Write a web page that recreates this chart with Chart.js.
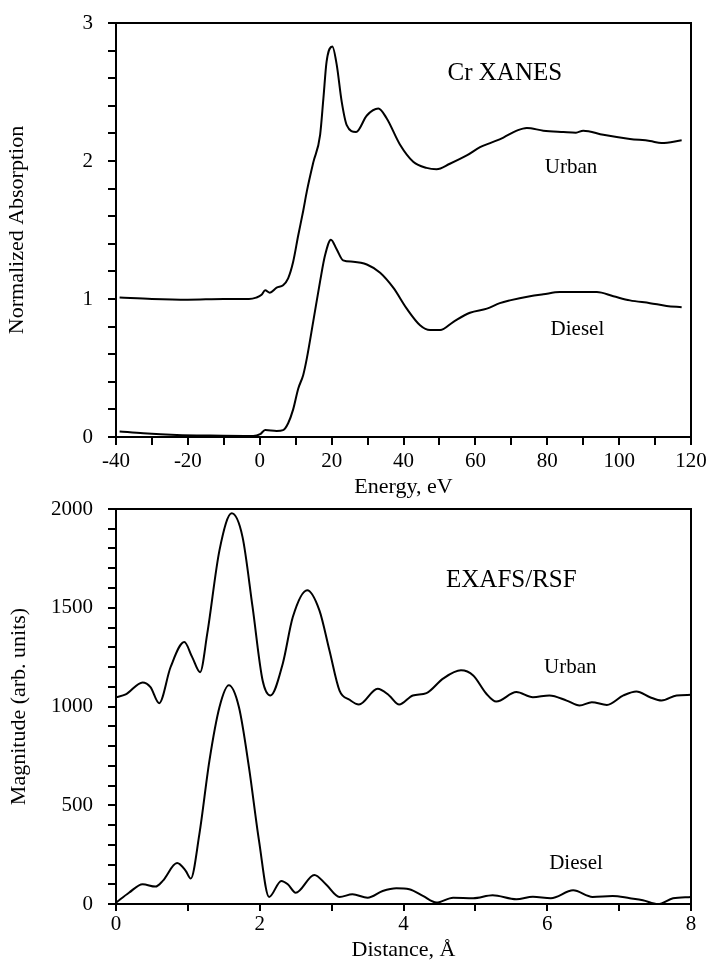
<!DOCTYPE html>
<html>
<head>
<meta charset="utf-8">
<script src="https://cdn.jsdelivr.net/npm/chart.js@4.4.0/dist/chart.umd.min.js"></script>
<style>
  body { margin: 0; background: #fff; }
  canvas { position: absolute; left: 0; }
  #xanes { top: 0; }
  #rsf { top: 490px; }
</style>
</head>
<body>
<canvas id="xanes" width="706" height="500"></canvas>
<canvas id="rsf" width="706" height="472"></canvas>
<script>
// Cr XANES, energy relative to the edge (eV) vs normalized absorption
const urbanEnergy = [-39, -30, -20, -10, -3, -1, 0.5, 1.5, 2.8, 4.7, 6.5, 7.9, 9.3, 10.7, 12.1, 13.1,
  14.9, 16.8, 17.7, 18.6, 20.2, 21.4, 22.8, 24.2, 26.8, 29.8, 33.0, 35.3, 39.0, 42.7, 46.4, 49.2,
  52.9, 57.6, 61.3, 64.1, 67.8, 71.5, 74.3, 78.9, 84.5, 88, 90.0, 95.6, 103, 108.6, 111.8, 117.4];
const urbanAbsorption = [1.01, 1.0, 0.995, 1.0, 1.0, 1.01, 1.03, 1.063, 1.046, 1.082, 1.10, 1.15, 1.27, 1.46, 1.64, 1.78,
  1.99, 2.19, 2.45, 2.72, 2.83, 2.70, 2.43, 2.26, 2.21, 2.33, 2.38, 2.31, 2.12, 1.995, 1.95, 1.94,
  1.98, 2.04, 2.10, 2.13, 2.17, 2.22, 2.24, 2.22, 2.21, 2.205, 2.22, 2.19, 2.16, 2.145, 2.13, 2.15];

const dieselEnergy = [-39, -32.4, -23.1, -13.8, -1.8, 0.1, 1.5, 4.7, 6.5, 7.9, 9.3, 10.7, 12.1, 13.1,
  14.9, 16.8, 18.2, 19.8, 21.4, 23.2, 26, 29.8, 33.5, 37.2, 40.9, 44.6, 47.4, 50.2, 53.9, 58.5,
  63.2, 66.8, 69.6, 75.2, 78.9, 83.5, 93.8, 98.4, 103, 108.6, 113.2, 117.4];
const dieselAbsorption = [0.04, 0.027, 0.015, 0.01, 0.007, 0.02, 0.05, 0.044, 0.05, 0.10, 0.20, 0.35, 0.45, 0.57,
  0.84, 1.13, 1.32, 1.43, 1.36, 1.28, 1.27, 1.25, 1.19, 1.08, 0.93, 0.81, 0.775, 0.775, 0.835, 0.90,
  0.93, 0.97, 0.99, 1.02, 1.034, 1.05, 1.05, 1.02, 0.99, 0.97, 0.95, 0.94];

// EXAFS radial structure function, distance (Å) vs magnitude
const urbanDistance = [0, 0.135, 0.37, 0.48, 0.6, 0.76, 0.95, 1.06, 1.17, 1.27, 1.44, 1.61, 1.76, 1.90,
  2.04, 2.15, 2.32, 2.46, 2.66, 2.83, 2.97, 3.11, 3.25, 3.38, 3.64, 3.80, 3.94, 4.13, 4.32, 4.55,
  4.80, 4.97, 5.15, 5.29, 5.57, 5.80, 6.03, 6.27, 6.45, 6.62, 6.83, 7.06, 7.24, 7.43, 7.59, 7.80, 8.0];
const urbanMagnitude = [1047, 1061, 1122, 1098, 1017, 1200, 1326, 1250, 1174, 1370, 1792, 1978, 1859, 1504,
  1132, 1056, 1217, 1453, 1589, 1487, 1284, 1081, 1034, 1010, 1090, 1056, 1010, 1056, 1068, 1141,
  1183, 1157, 1066, 1025, 1073, 1047, 1056, 1030, 1005, 1022, 1008, 1056, 1076, 1047, 1030, 1056, 1059];

const dieselDistance = [0, 0.18, 0.37, 0.55, 0.65, 0.85, 0.97, 1.04, 1.16, 1.30, 1.44, 1.57, 1.71, 1.85,
  1.99, 2.13, 2.30, 2.39, 2.50, 2.76, 2.92, 3.11, 3.29, 3.50, 3.71, 3.90, 4.08, 4.27, 4.46, 4.69,
  4.97, 5.24, 5.57, 5.80, 6.05, 6.36, 6.63, 6.91, 7.15, 7.33, 7.54, 7.75, 8.0];
const dieselMagnitude = [7, 57, 100, 88, 117, 207, 168, 129, 354, 726, 997, 1107, 997, 692,
  320, 36, 117, 100, 57, 147, 100, 36, 49, 32, 66, 80, 75, 41, 7, 32,
  29, 44, 24, 37, 29, 69, 36, 41, 29, 19, 0, 29, 36];

// in-plot labels, placed in data units
const xanesNoteText = ['Cr XANES', 'Urban', 'Diesel'];
const xanesNoteX = [68.2, 86.6, 88.4];
const xanesNoteY = [2.587, 1.911, 0.739];
const rsfNoteText = ['EXAFS/RSF', 'Urban', 'Diesel'];
const rsfNoteX = [5.50, 6.32, 6.40];
const rsfNoteY = [1607, 1168, 176];

Chart.defaults.font.family = '"Liberation Serif", "Times New Roman", serif';
Chart.defaults.color = '#000';

const toPoints = (xs, ys) => xs.map((x, i) => ({ x: x, y: ys[i] }));

// full box around the plot area plus the text labels inside it
const frameAndNotes = {
  id: 'frameAndNotes',
  afterDatasetsDraw(chart, args, opts) {
    const { ctx, chartArea: a, scales } = chart;
    ctx.save();
    ctx.strokeStyle = '#000';
    ctx.lineWidth = 2;
    ctx.strokeRect(a.left, a.top, a.right - a.left, a.bottom - a.top);
    ctx.fillStyle = '#000';
    ctx.textAlign = 'center';
    ctx.textBaseline = 'alphabetic';
    opts.text.forEach((t, i) => {
      ctx.font = (i === 0 ? 25 : 21) + 'px ' + Chart.defaults.font.family;
      ctx.fillText(t, scales.x.getPixelForValue(opts.x[i]), scales.y.getPixelForValue(opts.y[i]));
    });
    ctx.restore();
  },
};

function makeChart(id, cfg) {
  const axisLine = { display: true, color: '#000', width: 2 };
  const tickGrid = (len) => ({ drawOnChartArea: false, drawTicks: true, tickLength: len, color: '#000', lineWidth: 2 });
  return new Chart(document.getElementById(id), {
    type: 'line',
    data: {
      datasets: cfg.series.map((pts) => ({
        data: pts,
        borderColor: '#000',
        borderWidth: 2,
        pointRadius: 0,
        cubicInterpolationMode: 'monotone',
        fill: false,
      })),
    },
    options: {
      responsive: false,
      animation: false,
      devicePixelRatio: 1,
      layout: { padding: { top: cfg.padTop, right: 15, left: 0, bottom: 0 } },
      scales: {
        x: {
          type: 'linear',
          min: cfg.xMin,
          max: cfg.xMax,
          border: axisLine,
          grid: tickGrid(cfg.xTick),
          ticks: {
            stepSize: cfg.xStep,
            padding: cfg.xPad,
            maxRotation: 0,
            autoSkip: false,
            font: { size: 21 },
            callback: (v) => (Math.abs(v / cfg.xLabelEvery - Math.round(v / cfg.xLabelEvery)) < 1e-6 ? v : ''),
          },
          title: { display: true, text: cfg.xTitle, font: { size: 22 }, padding: { top: 0, bottom: cfg.xTitlePad } },
          afterFit: (s) => {
            s.height = cfg.xHeight;
            // let the last tick label hang past the plot edge
            s.paddingLeft = 0;
            s.paddingRight = 0;
          },
        },
        y: {
          min: cfg.yMin,
          max: cfg.yMax,
          border: axisLine,
          grid: tickGrid(8),
          ticks: {
            stepSize: cfg.yStep,
            padding: 15,
            autoSkip: false,
            font: { size: 21 },
            callback: (v) => (Math.abs(v / cfg.yLabelEvery - Math.round(v / cfg.yLabelEvery)) < 1e-6 ? Math.round(v) : ''),
          },
          title: { display: true, text: cfg.yTitle, font: { size: 22 }, padding: { top: cfg.yTitlePad, bottom: 0 } },
          afterFit: (s) => {
            s.width = 116;
            s.paddingTop = 0;
            s.paddingBottom = 0;
          },
        },
      },
      plugins: {
        legend: { display: false },
        tooltip: { enabled: false },
        frameAndNotes: cfg.notes,
      },
    },
    plugins: [frameAndNotes],
  });
}

makeChart('xanes', {
  series: [toPoints(urbanEnergy, urbanAbsorption), toPoints(dieselEnergy, dieselAbsorption)],
  xMin: -40, xMax: 120, xStep: 10, xLabelEvery: 20, xTick: 8, xPad: 4,
  yMin: 0, yMax: 3, yStep: 0.2, yLabelEvery: 1,
  xTitle: 'Energy, eV', yTitle: 'Normalized Absorption',
  padTop: 23, xHeight: 63, xTitlePad: 0, yTitlePad: 4,
  notes: { text: xanesNoteText, x: xanesNoteX, y: xanesNoteY },
});

makeChart('rsf', {
  series: [toPoints(urbanDistance, urbanMagnitude), toPoints(dieselDistance, dieselMagnitude)],
  xMin: 0, xMax: 8, xStep: 1, xLabelEvery: 2, xTick: 7, xPad: 1,
  yMin: 0, yMax: 2000, yStep: 100, yLabelEvery: 500,
  xTitle: 'Distance, Å', yTitle: 'Magnitude (arb. units)',
  padTop: 19, xHeight: 58, xTitlePad: -1, yTitlePad: 6,
  notes: { text: rsfNoteText, x: rsfNoteX, y: rsfNoteY },
});
</script>
</body>
</html>
